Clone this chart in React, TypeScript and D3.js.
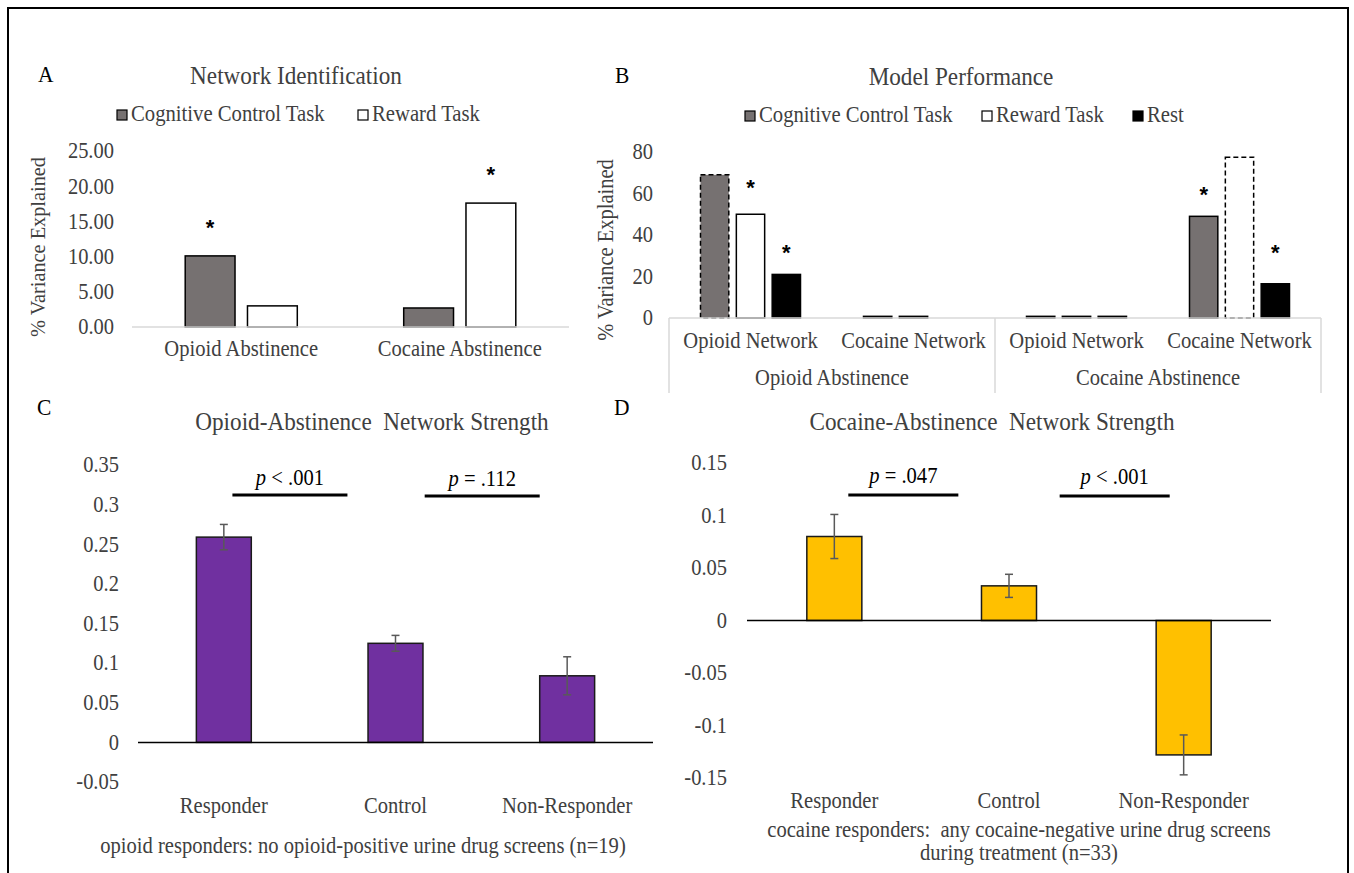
import React from 'react';
import * as d3 from 'd3';

const W = 1354;
const H = 873;
const FONT = '"Liberation Serif", "Times New Roman", serif';
const TXT = '#404040';
const SY = 1.08; // the source figure's lettering is slightly stretched vertically

// ---- Panel A: Network Identification
const aCategories = ['Opioid Abstinence', 'Cocaine Abstinence'];
const aSeries = ['Cognitive Control Task', 'Reward Task'];
const aValues = [
  [10.1, 3.0],
  [2.7, 17.6],
];
const aTicks = [0, 5, 10, 15, 20, 25];
// [category, series, height of star]
const aStars = [
  [0, 0, 14.8],
  [1, 1, 22.4],
];

// ---- Panel B: Model Performance
const bGroups = ['Opioid Abstinence', 'Cocaine Abstinence'];
const bNetworks = ['Opioid Network', 'Cocaine Network'];
const bSeries = ['Cognitive Control Task', 'Reward Task', 'Rest'];
// [group][network][series]
const bValues = [
  [[69, 50, 21], [0.8, 0.8, 0]],
  [[0.8, 0.8, 0.8], [49, 77.5, 16.5]],
];
const bTicks = [0, 20, 40, 60, 80];
// bars drawn with a dashed outline: [group, network, series]
const bDashed = [
  [0, 0, 0],
  [1, 1, 1],
];
// [group, network, series, height of star]
const bStars = [
  [0, 0, 1, 65.5],
  [0, 0, 2, 34.2],
  [1, 1, 0, 62.2],
  [1, 1, 2, 34.2],
];

// ---- Panels C & D
const outcomes = ['Responder', 'Control', 'Non-Responder'];
const cValues = [0.259, 0.125, 0.084];
const cErrors = [0.016, 0.01, 0.024];
const cTicks = [-0.05, 0, 0.05, 0.1, 0.15, 0.2, 0.25, 0.3, 0.35];
const cSig = [
  { from: 0.55, to: 1.22, at: 0.312, op: '<', p: '.001' },
  { from: 1.67, to: 2.34, at: 0.311, op: '=', p: '.112' },
];

const dValues = [0.08, 0.033, -0.128];
const dErrors = [0.021, 0.011, 0.019];
const dTicks = [-0.15, -0.1, -0.05, 0, 0.05, 0.1, 0.15];
const dSig = [
  { from: 0.58, to: 1.21, at: 0.1195, op: '=', p: '.047' },
  { from: 1.79, to: 2.42, at: 0.1186, op: '<', p: '.001' },
];

const GRAY = '#767171';
const fmtDec = (v: number) => d3.format('.2~f')(v).replace('\u2212', '-');

// text placed at (x, y) with the vertical stretch applied
function T({ x, y, rotate = 0, children, ...rest }: any) {
  return (
    <text transform={`translate(${x},${y}) rotate(${rotate}) scale(1,${SY})`} {...rest}>{children}</text>
  );
}

function Star({ x, y }: { x: number; y: number }) {
  return (
    <text x={x} y={y} dy="0.575em" textAnchor="middle" fontFamily='"Liberation Sans", Arial, sans-serif'
      fontWeight="bold" fontSize={22} fill="#000">*</text>
  );
}

function LegendItem({ x, y, fill, label }: { x: number; y: number; fill: string; label: string }) {
  return (
    <g>
      <rect x={x} y={y - 11} width={10} height={10} fill={fill} stroke="#000" strokeWidth={1.2} />
      <T x={x + 14} y={y} fontSize={20.7} fill={TXT}>{label}</T>
    </g>
  );
}

function PanelA() {
  const y = d3.scaleLinear().domain([0, 25]).range([327, 151]);
  const x0 = d3.scaleBand().domain(aCategories).range([132, 569]).paddingInner(0.487).paddingOuter(0.2435);
  const x1 = d3.scaleBand().domain(aSeries).range([0, x0.bandwidth()]).paddingInner(0.2);
  const fills = [GRAY, '#ffffff'];
  return (
    <g>
      <T x={38} y={82} fontSize={21.5} fill="#000">A</T>
      <T x={296} y={84} textAnchor="middle" fontSize={23.2} fill={TXT}>Network Identification</T>
      <LegendItem x={117} y={121} fill={fills[0]} label={aSeries[0]} />
      <LegendItem x={358} y={121} fill={fills[1]} label={aSeries[1]} />
      <T x={37} y={247} rotate={-90} dy="0.35em" textAnchor="middle" fontSize={20.3} fill={TXT}>% Variance Explained</T>
      {aTicks.map(t => (
        <T key={t} x={114} y={y(t)} dy="0.33em" textAnchor="end" fontSize={20.5} fill={TXT}>{d3.format('.2f')(t)}</T>
      ))}
      {aCategories.map((c, ci) => (
        <g key={c}>
          {aSeries.map((s, si) => (
            <rect key={s} x={x0(c)! + x1(s)!} y={y(aValues[ci][si])} width={x1.bandwidth()}
              height={y(0) - y(aValues[ci][si])} fill={fills[si]} stroke="#000" strokeWidth={1.5} />
          ))}
          <T x={x0(c)! + x0.bandwidth() / 2} y={356} textAnchor="middle" fontSize={20.6} fill={TXT}>{c}</T>
        </g>
      ))}
      <line x1={132} x2={569} y1={y(0)} y2={y(0)} stroke="#d9d9d9" strokeWidth={1.5} />
      {aStars.map(([ci, si, v], i) => (
        <Star key={i} x={x0(aCategories[ci])! + x1(aSeries[si])! + x1.bandwidth() / 2} y={y(v)} />
      ))}
    </g>
  );
}

function PanelB() {
  const y = d3.scaleLinear().domain([0, 80]).range([318, 152]);
  const keys = bGroups.flatMap(g => bNetworks.map(n => `${g}|${n}`));
  const x0 = d3.scaleBand().domain(keys).range([669, 1321]).paddingInner(0.3865).paddingOuter(0.19325);
  const x1 = d3.scaleBand().domain(bSeries).range([0, x0.bandwidth()]).paddingInner(0.21);
  const step = x0.step();
  const [r0] = x0.range();
  const fills = [GRAY, '#ffffff', '#000000'];
  const isDashed = (g: number, n: number, s: number) => bDashed.some(d => d[0] === g && d[1] === n && d[2] === s);
  return (
    <g>
      <T x={615} y={83} fontSize={21.5} fill="#000">B</T>
      <T x={961} y={85} textAnchor="middle" fontSize={23.2} fill={TXT}>Model Performance</T>
      <LegendItem x={745} y={122} fill={fills[0]} label={bSeries[0]} />
      <LegendItem x={982} y={122} fill={fills[1]} label={bSeries[1]} />
      <LegendItem x={1133} y={122} fill={fills[2]} label={bSeries[2]} />
      <T x={605} y={250} rotate={-90} dy="0.35em" textAnchor="middle" fontSize={20.5} fill={TXT}>% Variance Explained</T>
      {bTicks.map(t => (
        <T key={t} x={653} y={y(t)} dy="0.33em" textAnchor="end" fontSize={20.5} fill={TXT}>{t}</T>
      ))}
      {bGroups.map((g, gi) => bNetworks.map((n, ni) => {
        const k = `${g}|${n}`;
        return (
          <g key={k}>
            {bSeries.map((s, si) => {
              const v = bValues[gi][ni][si];
              if (v <= 0) return null;
              return (
                <rect key={s} x={x0(k)! + x1(s)!} y={y(v)} width={x1.bandwidth()} height={y(0) - y(v)}
                  fill={fills[si]} stroke="#000" strokeWidth={1.5}
                  strokeDasharray={isDashed(gi, ni, si) ? '5,3' : undefined} />
              );
            })}
            <T x={x0(k)! + x0.bandwidth() / 2} y={348} textAnchor="middle" fontSize={20.6} fill={TXT}>{n}</T>
          </g>
        );
      }))}
      {bGroups.map((g, gi) => (
        <T key={g} x={r0 + step * (gi * bNetworks.length + bNetworks.length / 2)} y={385}
          textAnchor="middle" fontSize={20.6} fill={TXT}>{g}</T>
      ))}
      <line x1={669} x2={1321} y1={y(0)} y2={y(0)} stroke="#d9d9d9" strokeWidth={1.5} />
      {d3.range(0, keys.length + 1, bNetworks.length).map(i => (
        <line key={i} x1={r0 + step * i} x2={r0 + step * i} y1={y(0)} y2={393} stroke="#d9d9d9" strokeWidth={1.5} />
      ))}
      {bStars.map(([gi, ni, si, v], i) => (
        <Star key={i} x={x0(`${bGroups[gi]}|${bNetworks[ni]}`)! + x1(bSeries[si])! + x1.bandwidth() / 2} y={y(v)} />
      ))}
    </g>
  );
}

type Sig = { from: number; to: number; at: number; op: string; p: string };

function StrengthPanel(props: {
  letter: string; letterX: number; title: string; titleX: number;
  values: number[]; errors: number[]; ticks: number[]; sig: Sig[];
  yDomain: [number, number]; yRange: [number, number]; xRange: [number, number];
  pad: number; tickX: number; fill: string; catY: number; sigGap: number;
  caption: string[]; captionX: number; captionY: number[];
}) {
  const y = d3.scaleLinear().domain(props.yDomain).range(props.yRange);
  const x = d3.scaleBand().domain(outcomes).range(props.xRange).paddingInner(props.pad).paddingOuter(props.pad / 2);
  const u = d3.scaleLinear().domain([0, outcomes.length]).range(props.xRange);
  return (
    <g>
      <T x={props.letterX} y={415} fontSize={21.5} fill="#000">{props.letter}</T>
      <T x={props.titleX} y={430} textAnchor="middle" fontSize={23.2} fill={TXT} style={{ whiteSpace: 'pre' }}>{props.title}</T>
      {props.ticks.map(t => (
        <T key={t} x={props.tickX} y={y(t)} dy="0.33em" textAnchor="end" fontSize={20.5} fill={TXT}>{fmtDec(t)}</T>
      ))}
      {outcomes.map((c, i) => {
        const v = props.values[i];
        const e = props.errors[i];
        const cx = x(c)! + x.bandwidth() / 2;
        return (
          <g key={c}>
            <rect x={x(c)} y={y(Math.max(0, v))} width={x.bandwidth()} height={Math.abs(y(v) - y(0))}
              fill={props.fill} stroke="#1a1a1a" strokeWidth={1.5} />
            <g stroke="#595959" strokeWidth={1.5}>
              <line x1={cx} x2={cx} y1={y(v + e)} y2={y(v - e)} />
              <line x1={cx - 4} x2={cx + 4} y1={y(v + e)} y2={y(v + e)} />
              <line x1={cx - 4} x2={cx + 4} y1={y(v - e)} y2={y(v - e)} />
            </g>
            <T x={cx} y={props.catY} textAnchor="middle" fontSize={20.6} fill={TXT}>{c}</T>
          </g>
        );
      })}
      <line x1={props.xRange[0]} x2={props.xRange[1]} y1={y(0)} y2={y(0)} stroke="#000" strokeWidth={1.5} />
      {props.sig.map((s, i) => (
        <g key={i}>
          <line x1={u(s.from)} x2={u(s.to)} y1={y(s.at)} y2={y(s.at)} stroke="#000" strokeWidth={3} />
          <T x={(u(s.from) + u(s.to)) / 2} y={y(s.at) - props.sigGap} textAnchor="middle" fontSize={20.6} fill="#000">
            <tspan fontStyle="italic">p</tspan> {s.op} {s.p}
          </T>
        </g>
      ))}
      {props.caption.map((line, i) => (
        <T key={i} x={props.captionX} y={props.captionY[i]} textAnchor="middle" fontSize={20.6} fill={TXT}
          style={{ whiteSpace: 'pre' }}>{line}</T>
      ))}
    </g>
  );
}

export default function App() {
  return (
    <svg width={W} height={H} fontFamily={FONT} style={{ position: 'absolute', left: 0, top: 0, background: '#fff' }}>
      <rect x={0} y={0} width={W} height={H} fill="#fff" />
      <rect x={8} y={8} width={1340} height={H + 10} fill="none" stroke="#000" strokeWidth={2} />
      <PanelA />
      <PanelB />
      <StrengthPanel letter="C" letterX={37} title="Opioid-Abstinence  Network Strength" titleX={372}
        values={cValues} errors={cErrors} ticks={cTicks} sig={cSig}
        yDomain={[-0.05, 0.35]} yRange={[782, 465]} xRange={[138, 653]} pad={0.68} tickX={119}
        fill="#7030A0" catY={813} sigGap={10}
        caption={['opioid responders: no opioid-positive urine drug screens (n=19)']} captionX={363} captionY={[853]} />
      <StrengthPanel letter="D" letterX={614} title="Cocaine-Abstinence  Network Strength" titleX={992}
        values={dValues} errors={dErrors} ticks={dTicks} sig={dSig}
        yDomain={[-0.15, 0.15]} yRange={[778, 463]} xRange={[747, 1271]} pad={0.685} tickX={727}
        fill="#FFC000" catY={808} sigGap={12}
        caption={['cocaine responders:  any cocaine-negative urine drug screens', 'during treatment (n=33)']}
        captionX={1019} captionY={[837, 860]} />
    </svg>
  );
}
